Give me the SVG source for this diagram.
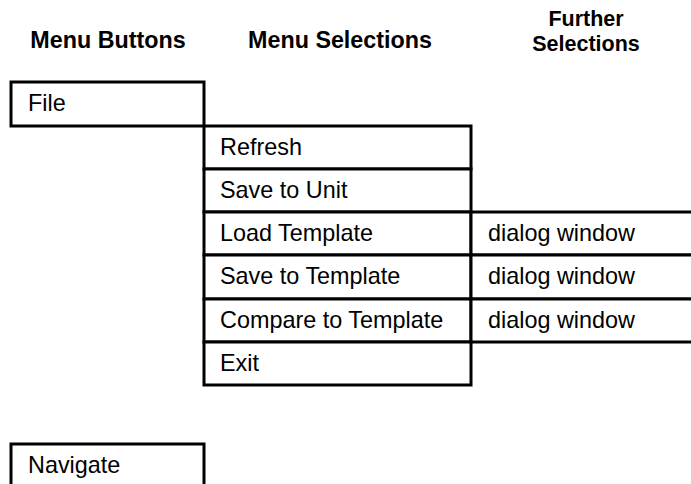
<svg xmlns="http://www.w3.org/2000/svg" width="691" height="484" viewBox="0 0 691 484">
<style>
.box{fill:#fff;stroke:#000;stroke-width:3}
.h{font-family:"Liberation Sans",Arial,sans-serif;font-weight:bold;font-size:23.3px;fill:#000;text-anchor:middle}
.h2{font-size:21.5px}
.t{font-family:"Liberation Sans",Arial,sans-serif;font-size:23.4px;fill:#000}
</style>
<rect width="691" height="484" fill="#fff"/>
<g id="headers">
<text class="h" x="108" y="48">Menu Buttons</text>
<text class="h" x="340" y="48">Menu Selections</text>
<text class="h h2" x="586" y="26">Further</text>
<text class="h h2" x="586" y="51">Selections</text>
</g>
<g id="file"><rect class="box" x="11" y="82" width="193" height="44"/><text class="t" x="28" y="111">File</text></g>
<g id="refresh"><rect class="box" x="204" y="126" width="267" height="43"/><text class="t" x="220" y="155">Refresh</text></g>
<g id="save-unit"><rect class="box" x="204" y="169" width="267" height="43"/><text class="t" x="220" y="198">Save to Unit</text></g>
<g id="load-template"><rect class="box" x="204" y="212" width="267" height="43"/><text class="t" x="220" y="241">Load Template</text></g>
<g id="save-template"><rect class="box" x="204" y="255" width="267" height="44"/><text class="t" x="220" y="284">Save to Template</text></g>
<g id="compare-template"><rect class="box" x="204" y="299" width="267" height="43"/><text class="t" x="220" y="328">Compare to Template</text></g>
<g id="exit"><rect class="box" x="204" y="342" width="267" height="43"/><text class="t" x="220" y="371">Exit</text></g>
<g id="dialog1"><rect class="box" x="471" y="212" width="240" height="43"/><text class="t" x="488" y="241">dialog window</text></g>
<g id="dialog2"><rect class="box" x="471" y="255" width="240" height="44"/><text class="t" x="488" y="284">dialog window</text></g>
<g id="dialog3"><rect class="box" x="471" y="299" width="240" height="43"/><text class="t" x="488" y="328">dialog window</text></g>
<g id="navigate"><rect class="box" x="11" y="444" width="193" height="60"/><text class="t" x="28" y="473">Navigate</text></g>
<g id="connectors"></g>
</svg>
